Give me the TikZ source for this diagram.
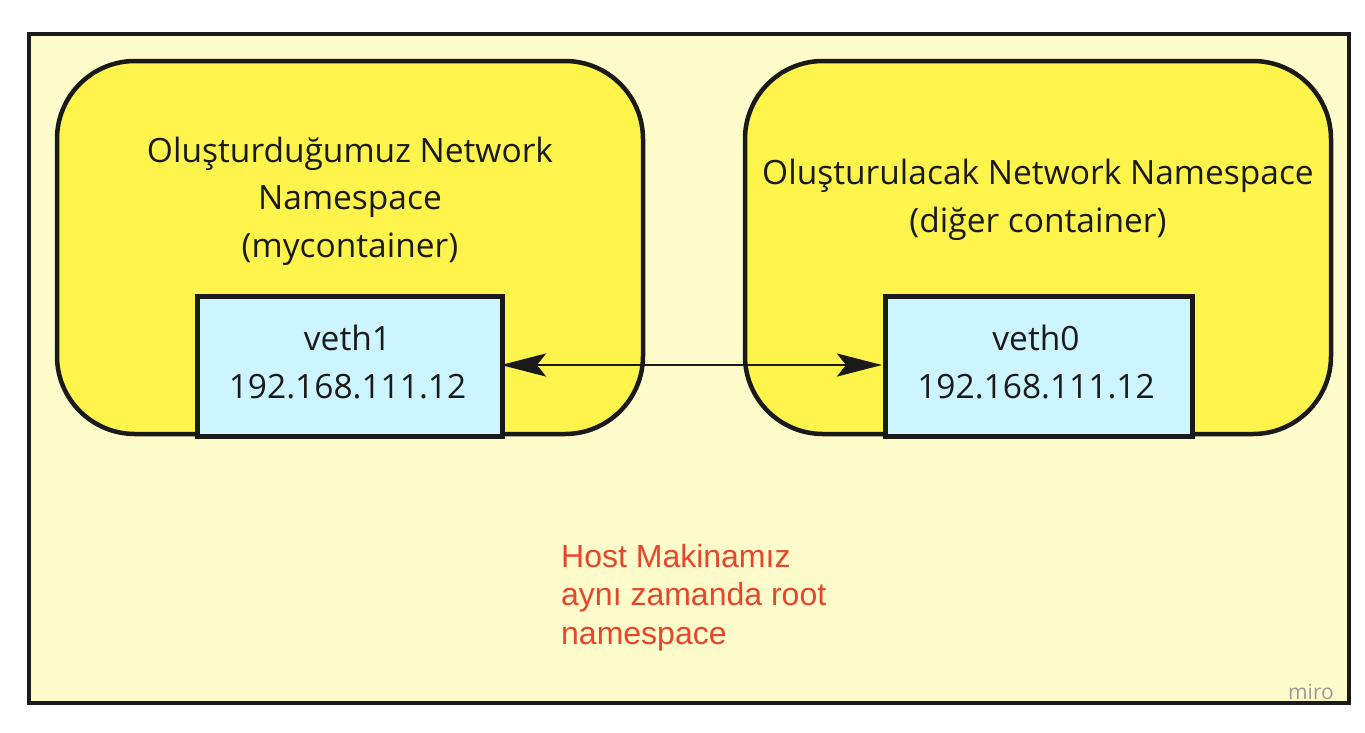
\documentclass[tikz,border=0pt]{standalone}
\usepackage{fontspec}
\setmainfont{Open Sans}
\newfontfamily\redfont{Liberation Sans}
\usetikzlibrary{arrows.meta}
\definecolor{hostbg}{HTML}{FFFCCB}
\definecolor{nsyellow}{HTML}{FEF44C}
\definecolor{ifcyan}{HTML}{CCF5FF}
\definecolor{edge}{HTML}{1A1A1A}
\definecolor{redtxt}{HTML}{E8452C}
\definecolor{mirogray}{HTML}{9A9A9A}
\tikzset{
  hostbox/.style={draw=edge, line width=4.5pt, fill=hostbg},
  nsbox/.style={draw=edge, line width=4.5pt, fill=nsyellow, rounded corners=78pt},
  ifbox/.style={draw=edge, line width=4.5pt, fill=ifcyan},
  lbl/.style={font=\fontsize{33.5}{47.5}\selectfont, text=edge, align=center, inner sep=0pt},
  note/.style={font=\redfont\fontsize{32}{38.5}\selectfont, text=redtxt, align=left, inner sep=0pt, anchor=north west},
  link/.style={edge, line width=2.8pt, {Stealth[length=45pt,width=23pt,inset=9pt]}-{Stealth[length=45pt,width=23pt,inset=9pt]}, shorten <=1pt, shorten >=1pt}
}
\begin{document}
\begin{tikzpicture}[x=1pt,y=-1pt]
\useasboundingbox (0,0) rectangle (1365,732);
\fill[white] (0,0) rectangle (1365,732);
\draw[hostbox] (29,34) rectangle (1349,703);
\draw[nsbox] (57,61) rectangle (643,434);
\draw[nsbox] (745,61) rectangle (1331,434);
\node[lbl] (t1) at (350,201) {Oluşturduğumuz Network\\Namespace\\(mycontainer)};
\node[lbl] (t2) at (1038,200) {Oluşturulacak Network Namespace\\(diğer container)};
\node[ifbox, minimum width=305pt, minimum height=140pt, anchor=north west] (v1) at (195,294) {};
\node[ifbox, minimum width=307pt, minimum height=140pt, anchor=north west] (v0) at (883,294) {};
\node[lbl] (v1t) at (347.5,362) {veth1\\192.168.111.12};
\node[lbl] (v0t) at (1036,362) {veth0\\192.168.111.12};
\coordinate (a1) at (500,365);
\coordinate (a0) at (883,365);
\draw[link] (a1) -- (a0);
\node[note] (host) at (561,544) {Host Makinamız\\aynı zamanda root\\namespace};
\node[font=\fontsize{21}{24}\selectfont, text=mirogray, inner sep=0pt] (miro) at (1311,692) {miro};
\end{tikzpicture}
\end{document}
